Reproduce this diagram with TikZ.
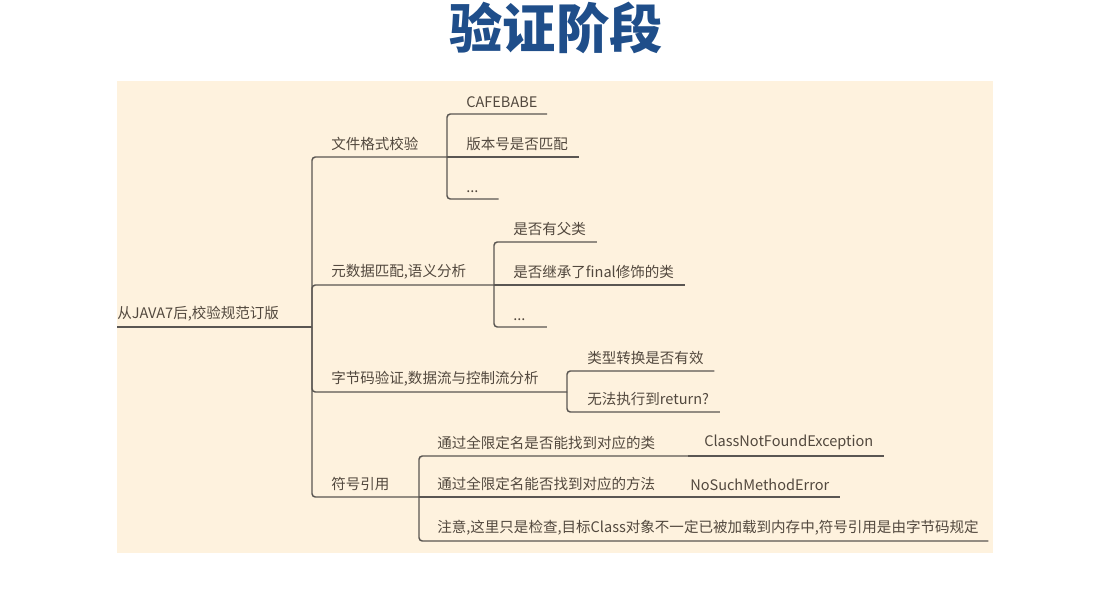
\documentclass[tikz,border=0pt]{standalone}
\usepackage{fontspec}
\newfontfamily\cjk{Noto Sans CJK SC}
\newfontfamily\cjkhead{Noto Sans CJK SC}[UprightFont={* Black}]
\definecolor{paper}{RGB}{254,242,222}
\definecolor{ink}{RGB}{82,72,62}
\definecolor{wire}{RGB}{90,86,82}
\definecolor{heading}{RGB}{31,78,138}
\tikzset{
  topic/.style={anchor=south west, inner xsep=0pt, inner ysep=4.3pt, text=ink, font=\cjk\fontsize{10.9}{13}\selectfont},
  branch/.style={draw=wire, line width=1.1pt, rounded corners=2.5pt},
}

\begin{document}
\begin{tikzpicture}[x=0.75pt,y=-0.75pt]
        \useasboundingbox (0,0) rectangle (1110,590);
        \fill [paper] (117,81) rectangle (993,553);
        \node [font=\cjkhead\fontsize{40}{44}\selectfont, text=heading] (Title) at (556,28) {验证阶段};

        \node [topic] (Root) at (117,327) {从JAVA7后,校验规范订版};
        \node [topic] (FileFmt) at (331,157) {文件格式校验};
        \node [topic] (Magic) at (466,114) {CAFEBABE};
        \node [topic] (Version) at (466,157) {版本号是否匹配};
        \node [topic] (FileMore) at (466,199) {...};
        \node [topic] (Meta) at (331,285) {元数据匹配,语义分析};
        \node [topic] (Super) at (513,242) {是否有父类};
        \node [topic] (Final) at (513,285) {是否继承了final修饰的类};
        \node [topic] (MetaMore) at (513,327) {...};
        \node [topic] (Code) at (331,392) {字节码验证,数据流与控制流分析};
        \node [topic] (Cast) at (587,371) {类型转换是否有效};
        \node [topic] (Ret) at (587,412) {无法执行到return?};
        \node [topic] (Sym) at (331,497) {符号引用};
        \node [topic] (SymClass) at (437,456) {通过全限定名是否能找到对应的类};
        \node [topic] (CNFE) at (704,456) {ClassNotFoundException};
        \node [topic] (SymMethod) at (437,497) {通过全限定名能否找到对应的方法};
        \node [topic] (NSME) at (690,497) {NoSuchMethodError};
        \node [topic] (Note) at (437,541) {注意,这里只是检查,目标Class对象不一定已被加载到内存中,符号引用是由字节码规定};

        \coordinate (J0) at (312,327);
        \coordinate (J1) at (447,157);
        \coordinate (J2) at (494,285);
        \coordinate (J3) at (567,392);
        \coordinate (J4) at (419,497);
        \coordinate (J5) at (688,456);
        \coordinate (J6) at (676,497);

        \draw [branch] (Root.south west) -- (J0);
        \draw [branch] (J0) |- (J1);
        \draw [branch] (J0) |- (J2);
        \draw [branch] (J0) |- (J3);
        \draw [branch] (J0) |- (J4);

        \draw [branch] (J1) |- ([xshift=7pt]Magic.south east);
        \draw [branch] (J1) -- ([xshift=8pt]Version.south east);
        \draw [branch] (J1) |- ([xshift=15pt]FileMore.south east);

        \draw [branch] (J2) |- ([xshift=8pt]Super.south east);
        \draw [branch] (J2) -- ([xshift=8pt]Final.south east);
        \draw [branch] (J2) |- ([xshift=16pt]MetaMore.south east);

        \draw [branch] (J3) |- ([xshift=8pt]Cast.south east);
        \draw [branch] (J3) |- ([xshift=8pt]Ret.south east);

        \draw [branch] (J4) |- (J5);
        \draw [branch] (J5) -- ([xshift=8pt]CNFE.south east);
        \draw [branch] (J4) -- (J6);
        \draw [branch] (J6) -- ([xshift=8pt]NSME.south east);
        \draw [branch] (J4) |- ([xshift=7pt]Note.south east);
\end{tikzpicture}
\end{document}
